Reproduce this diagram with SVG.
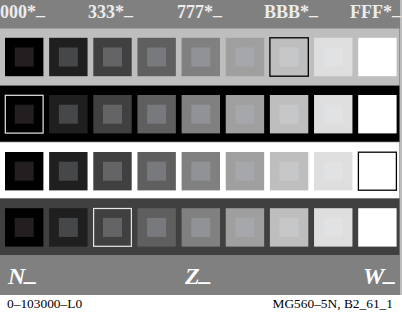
<svg xmlns="http://www.w3.org/2000/svg" width="402" height="324" viewBox="0 0 402 324">
<style>
.lbl{font-family:"Liberation Serif",serif;font-weight:bold;font-size:18px;fill:#ececec}
.big{font-family:"Liberation Serif",serif;font-weight:bold;font-style:italic;font-size:24px;fill:#ffffff}
.foot{font-family:"Liberation Serif",serif;font-size:13.4px;fill:#000}
.s1{fill:#000}.i1{fill:#231f20}
.s2{fill:#1f1f1f}.i2{fill:#464749}
.s3{fill:#404040}.i3{fill:#646466}
.s4{fill:#5f5f5f}.i4{fill:#78797c}
.s5{fill:#808080}.i5{fill:#909296}
.s6{fill:#9f9f9f}.i6{fill:#a5a7aa}
.s7{fill:#bebebe}.i7{fill:#c6c7c9}
.s8{fill:#dedede}.i8{fill:#e1e2e4}
.s9{fill:#fff}.i9{fill:#fff}
.fb{fill:none;stroke:#000;stroke-width:1.3}
.fw{fill:none;stroke:#e6e6e6;stroke-width:1.2}
</style>
<defs>
<g id="strip">
<rect class="s1" x="5" y="0" width="38.4" height="38.4"/><rect class="i1" x="14.7" y="9.7" width="19" height="19"/>
<rect class="s2" x="49.15" y="0" width="38.4" height="38.4"/><rect class="i2" x="58.85" y="9.7" width="19" height="19"/>
<rect class="s3" x="93.3" y="0" width="38.4" height="38.4"/><rect class="i3" x="103" y="9.7" width="19" height="19"/>
<rect class="s4" x="137.45" y="0" width="38.4" height="38.4"/><rect class="i4" x="147.15" y="9.7" width="19" height="19"/>
<rect class="s5" x="181.6" y="0" width="38.4" height="38.4"/><rect class="i5" x="191.3" y="9.7" width="19" height="19"/>
<rect class="s6" x="225.75" y="0" width="38.4" height="38.4"/><rect class="i6" x="235.45" y="9.7" width="19" height="19"/>
<rect class="s7" x="269.9" y="0" width="38.4" height="38.4"/><rect class="i7" x="279.6" y="9.7" width="19" height="19"/>
<rect class="s8" x="314.05" y="0" width="38.4" height="38.4"/><rect class="i8" x="323.75" y="9.7" width="19" height="19"/>
<rect class="s9" x="358.2" y="0" width="38.4" height="38.4"/><rect class="i9" x="367.9" y="9.7" width="19" height="19"/>
</g>
</defs>
<rect x="0" y="0" width="402" height="324" fill="#fff"/>
<rect x="0" y="0" width="400" height="295" fill="#808080"/>
<rect x="400" y="0" width="2" height="295" fill="#bdbdbd"/>
<g id="row1">
<rect x="0" y="28.5" width="399.3" height="56.6" fill="#bebebe"/>
<use href="#strip" y="37.8"/>
<rect class="fb" x="269.9" y="37.8" width="38.4" height="38.4"/>
</g>
<g id="row2">
<rect x="0" y="85.8" width="399.3" height="55.8" fill="#000"/>
<use href="#strip" y="95"/>
<rect class="fw" x="5.3" y="95.3" width="37.8" height="37.8"/>
</g>
<g id="row3">
<rect x="0" y="142.3" width="399.3" height="55.8" fill="#fff"/>
<use href="#strip" y="152"/>
<rect class="fb" x="358.4" y="152.2" width="38" height="38"/>
</g>
<g id="row4">
<rect x="0" y="198.8" width="399.3" height="56.2" fill="#404040"/>
<use href="#strip" y="208.2"/>
<rect class="fw" x="93.6" y="208.5" width="37.8" height="37.8"/>
</g>
<g id="connectors"/>
<g id="labels">
<text class="lbl" x="0" y="17.5">000*<tspan dy="-2.3">_</tspan></text>
<text class="lbl" x="88" y="17.5">333*<tspan dy="-2.3">_</tspan></text>
<text class="lbl" x="177" y="17.5">777*<tspan dy="-2.3">_</tspan></text>
<text class="lbl" x="264" y="17.5">BBB*<tspan dy="-2.3">_</tspan></text>
<text class="lbl" x="350" y="17.5">FFF*<tspan dy="-2.3">_</tspan></text>
<text class="big" x="8" y="284.3">N<tspan dy="-3">_</tspan></text>
<text class="big" x="185" y="284.3">Z<tspan dy="-3">_</tspan></text>
<text class="big" x="363" y="284.3">W<tspan dy="-3">_</tspan></text>
<text class="foot" x="7" y="307.7">0–103000–L0</text>
<text class="foot" x="393" y="307.7" text-anchor="end">MG560–5N, B2_61_1</text>
</g>
</svg>
